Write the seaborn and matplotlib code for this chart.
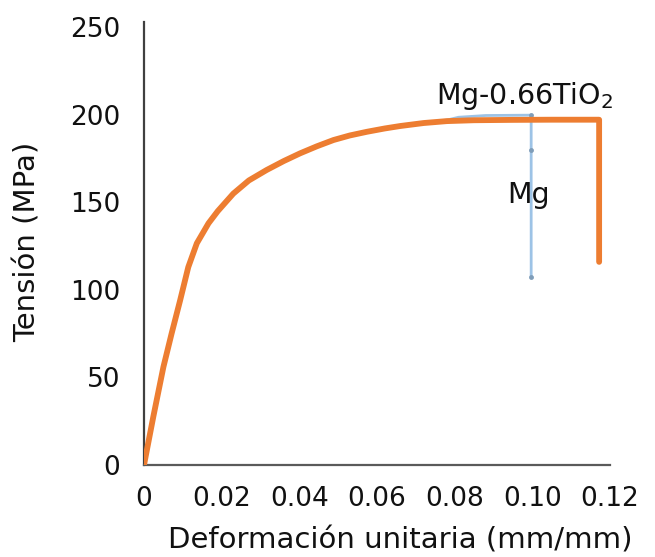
import matplotlib
matplotlib.use("Agg")
import matplotlib.pyplot as plt
import seaborn as sns
import numpy as np

# Data
tio2_strain = [0.0, 0.0024, 0.0050, 0.0071, 0.0093, 0.0114, 0.0136, 0.0166, 0.0190,
               0.0230, 0.0270, 0.0316, 0.0360, 0.0402, 0.0445, 0.0488, 0.0530, 0.0574,
               0.0620, 0.0660, 0.0720, 0.0780, 0.0850, 0.0950, 0.1050, 0.1172, 0.1172]
tio2_stress = [0.0, 27.6, 56.0, 75.0, 94.0, 113.0, 126.6, 138.0, 145.0,
               155.0, 162.5, 168.5, 173.6, 178.0, 182.0, 185.6, 188.2, 190.3,
               192.2, 193.6, 195.3, 196.4, 196.9, 197.1, 197.2, 197.2, 116.0]

mg_strain = [0.0, 0.0024, 0.0050, 0.0071, 0.0093, 0.0114, 0.0136, 0.0166, 0.0190,
             0.0230, 0.0270, 0.0316, 0.0360, 0.0402, 0.0445, 0.0488, 0.0530, 0.0574,
             0.0620, 0.0660, 0.0720, 0.0780, 0.0810, 0.0880, 0.0997, 0.0997, 0.0997]
mg_stress = [0.0, 27.6, 56.0, 75.0, 94.0, 113.0, 126.6, 138.0, 145.0,
             155.0, 162.5, 168.5, 173.6, 178.0, 182.0, 185.6, 188.2, 190.3,
             192.2, 193.6, 195.5, 197.0, 198.6, 199.6, 199.8, 180.0, 107.4]

x_ticks = [0, 0.02, 0.04, 0.06, 0.08, 0.10, 0.12]
x_tick_labels = ["0", "0.02", "0.04", "0.06", "0.08", "0.10", "0.12"]
y_ticks = [0, 50, 100, 150, 200, 250]

sns.set_style("white")
plt.rcParams['font.family'] = ['DejaVu Sans']

fig = plt.figure(figsize=(6.55, 5.57), dpi=100)
ax = fig.add_axes([144/655, 1 - 465/557, (610-144)/655, (465-22)/557])

n_mg = len(mg_strain)
sns.lineplot(x=mg_strain, y=mg_stress, sort=False, estimator=None, ax=ax, color="#9DC3E6",
             lw=2, marker="o", markersize=3.5, markeredgewidth=0,
             markerfacecolor="#7F9DB9", markevery=[n_mg - 3, n_mg - 2, n_mg - 1], zorder=2)
sns.lineplot(x=tio2_strain, y=tio2_stress, sort=False, estimator=None, ax=ax, color="#ED7D31",
             lw=4.2, zorder=3, solid_capstyle="round", solid_joinstyle="round")

ax.set_xlim(0, 0.12)
ax.set_ylim(0, 253)
ax.set_xticks(x_ticks)
ax.set_xticklabels(x_tick_labels)
ax.set_yticks(y_ticks)

ax.tick_params(axis="both", length=0, labelsize=19, colors="#111111")
ax.tick_params(axis="y", pad=17)
ax.tick_params(axis="x", pad=15)

for s in ["top", "right"]:
    ax.spines[s].set_visible(False)
ax.spines["left"].set_color("#404040")
ax.spines["bottom"].set_color("#5a5a5a")
ax.spines["left"].set_linewidth(1.6)
ax.spines["bottom"].set_linewidth(1.6)

ax.set_xlabel("Deformación unitaria (mm/mm)", fontsize=21, color="#111111")
ax.set_ylabel("Tensión (MPa)", fontsize=21, color="#111111")
ax.xaxis.set_label_coords((400 - 144) / 466, (465 - 540) / 443)
ax.yaxis.set_label_coords((28 - 144) / 466, (465 - 242) / 443)
ax.xaxis.label.set_va("center")
ax.yaxis.label.set_va("center")

ax.text(0.0753, 211, "Mg-0.66TiO$_2$", fontsize=20.5, ha="left", va="center", color="#111111")
ax.text(0.0935, 154, "Mg", fontsize=20.5, ha="left", va="center", color="#111111")

fig.savefig("out.png", dpi=100)
